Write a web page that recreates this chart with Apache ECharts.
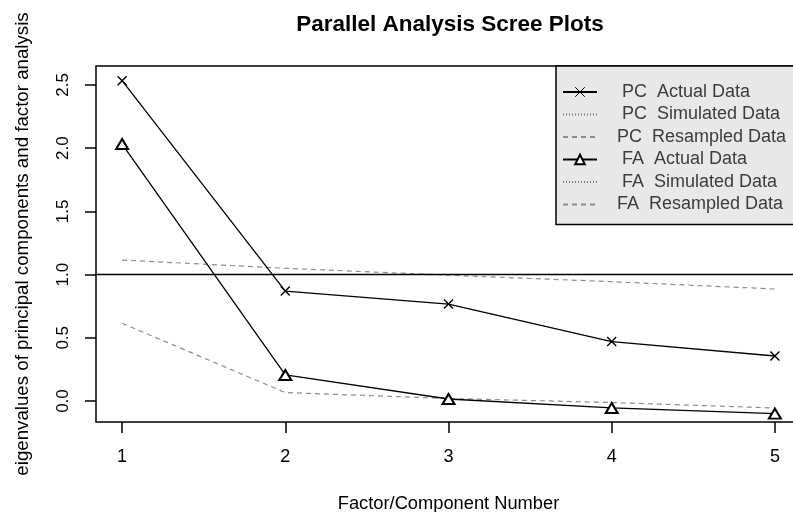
<!DOCTYPE html>
<html>
<head>
<meta charset="utf-8">
<script src="https://cdn.jsdelivr.net/npm/echarts@6/dist/echarts.min.js"></script>
<style>html,body{margin:0;padding:0;background:#fff;}#chart{width:793px;height:512px;}</style>
</head>
<body>
<div id="chart"></div>
<script>
// ---- data ----
const factorNumber = [1, 2, 3, 4, 5];
const pcActual     = [2.534, 0.870, 0.767, 0.470, 0.356];
const pcSimulated  = [];
const pcResampled  = [1.115, 1.050, 0.995, 0.944, 0.886];
const faActual     = [2.033, 0.206, 0.016, -0.055, -0.100];
const faSimulated  = [];
const faResampled  = [0.615, 0.067, 0.020, -0.012, -0.055];
const xTicks = [1, 2, 3, 4, 5];
const yTicks = [0, 0.5, 1, 1.5, 2, 2.5];
const seriesNames = ['PC  Actual Data', 'PC  Simulated Data', 'PC  Resampled Data',
                     'FA  Actual Data', 'FA  Simulated Data', 'FA  Resampled Data'];
const legendPad = ['    ', '    ', '   ', '    ', '    ', '   '];
const titleText = 'Parallel Analysis Scree Plots';
const xName = 'Factor/Component Number';
const yName = 'eigenvalues of principal components and factor analysis';
const refLine = 1;

const pairs = (ys) => ys.map((y, i) => [factorNumber[i], y]);
const FONT = '"Liberation Sans", Arial, sans-serif';
const xPath = 'path://M0,0L10,10M0,10L10,0';

const chart = echarts.init(document.getElementById('chart'), null, {renderer: 'canvas'});
chart.setOption({
  animation: false,
  backgroundColor: '#fff',
  title: {
    text: titleText, left: 445, top: 8, textAlign: 'center',
    textStyle: {fontFamily: FONT, fontSize: 22.5, fontWeight: 'bold', color: '#000'}
  },
  grid: {left: 96, top: 66, width: 705, height: 356, show: true,
         outerBoundsMode: 'none', containLabel: false,
         borderColor: '#000', borderWidth: 1.5, backgroundColor: 'transparent'},
  xAxis: {
    type: 'value', min: 0.84, max: 5.16,
    name: xName, nameLocation: 'middle', nameGap: 73,
    nameTextStyle: {fontFamily: FONT, fontSize: 18.3, color: '#000'},
    axisLine: {show: false, onZero: false},
    axisTick: {show: true, inside: false, customValues: xTicks, length: 11, lineStyle: {color: '#000', width: 1.5}},
    axisLabel: {customValues: xTicks, fontFamily: FONT, fontSize: 18, color: '#000', margin: 26},
    splitLine: {show: false}
  },
  yAxis: {
    type: 'value', min: -0.166, max: 2.65,
    name: yName, nameLocation: 'middle', nameGap: 64, nameRotate: 90,
    nameTextStyle: {fontFamily: FONT, fontSize: 18.7, color: '#000'},
    axisLine: {show: false, onZero: false},
    axisTick: {show: true, inside: false, customValues: yTicks, length: 11, lineStyle: {color: '#000', width: 1.5}},
    axisLabel: {customValues: yTicks, rotate: 90, fontFamily: FONT, fontSize: 17, color: '#000', margin: 24,
                formatter: (v) => v.toFixed(1)},
    splitLine: {show: false}
  },
  legend: {
    orient: 'vertical', left: 556, top: 66,
    padding: [17, 60, 11, 6],
    backgroundColor: '#e8e8e8', borderColor: '#000', borderWidth: 1.5,
    itemWidth: 34, itemHeight: 12, itemGap: 4.5,
    textStyle: {fontFamily: FONT, fontSize: 18, color: '#3c3c3c', lineHeight: 18},
    formatter: (name) => legendPad[seriesNames.indexOf(name)] + name,
    data: [
      {name: seriesNames[0], itemStyle: {borderWidth: 1}},
      {name: seriesNames[1], itemStyle: {opacity: 0}},
      {name: seriesNames[2], itemStyle: {opacity: 0}},
      {name: seriesNames[3]},
      {name: seriesNames[4], itemStyle: {opacity: 0}},
      {name: seriesNames[5], itemStyle: {opacity: 0}}
    ]
  },
  series: [
    {
      name: seriesNames[0], type: 'line', data: pairs(pcActual),
      symbol: xPath, symbolSize: 9,
      itemStyle: {color: 'rgba(0,0,0,0)', borderColor: '#000', borderWidth: 1.4},
      lineStyle: {color: '#000', width: 1.3},
      markLine: {silent: true, symbol: 'none', label: {show: false},
                 lineStyle: {color: '#000', width: 1.3, type: 'solid'},
                 data: [{yAxis: refLine}]},
      z: 3
    },
    {
      name: seriesNames[1], type: 'line', data: pairs(pcSimulated), symbol: 'none',
      itemStyle: {color: '#777'}, lineStyle: {color: '#777', width: 1, type: [1, 2]}
    },
    {
      name: seriesNames[2], type: 'line', data: pairs(pcResampled), symbol: 'none',
      itemStyle: {color: '#8c8c8c'}, lineStyle: {color: '#8c8c8c', width: 1.2, type: [5, 4]}, z: 2
    },
    {
      name: seriesNames[3], type: 'line', data: pairs(faActual),
      symbol: 'emptyTriangle', symbolSize: [12, 10],
      itemStyle: {color: '#000', borderColor: '#000', borderWidth: 1.5},
      lineStyle: {color: '#000', width: 1.3}, z: 3
    },
    {
      name: seriesNames[4], type: 'line', data: pairs(faSimulated), symbol: 'none',
      itemStyle: {color: '#777'}, lineStyle: {color: '#777', width: 1, type: [1, 2]}
    },
    {
      name: seriesNames[5], type: 'line', data: pairs(faResampled), symbol: 'none',
      itemStyle: {color: '#8c8c8c'}, lineStyle: {color: '#8c8c8c', width: 1.2, type: [5, 4]}, z: 2
    }
  ]
});
</script>
</body>
</html>
